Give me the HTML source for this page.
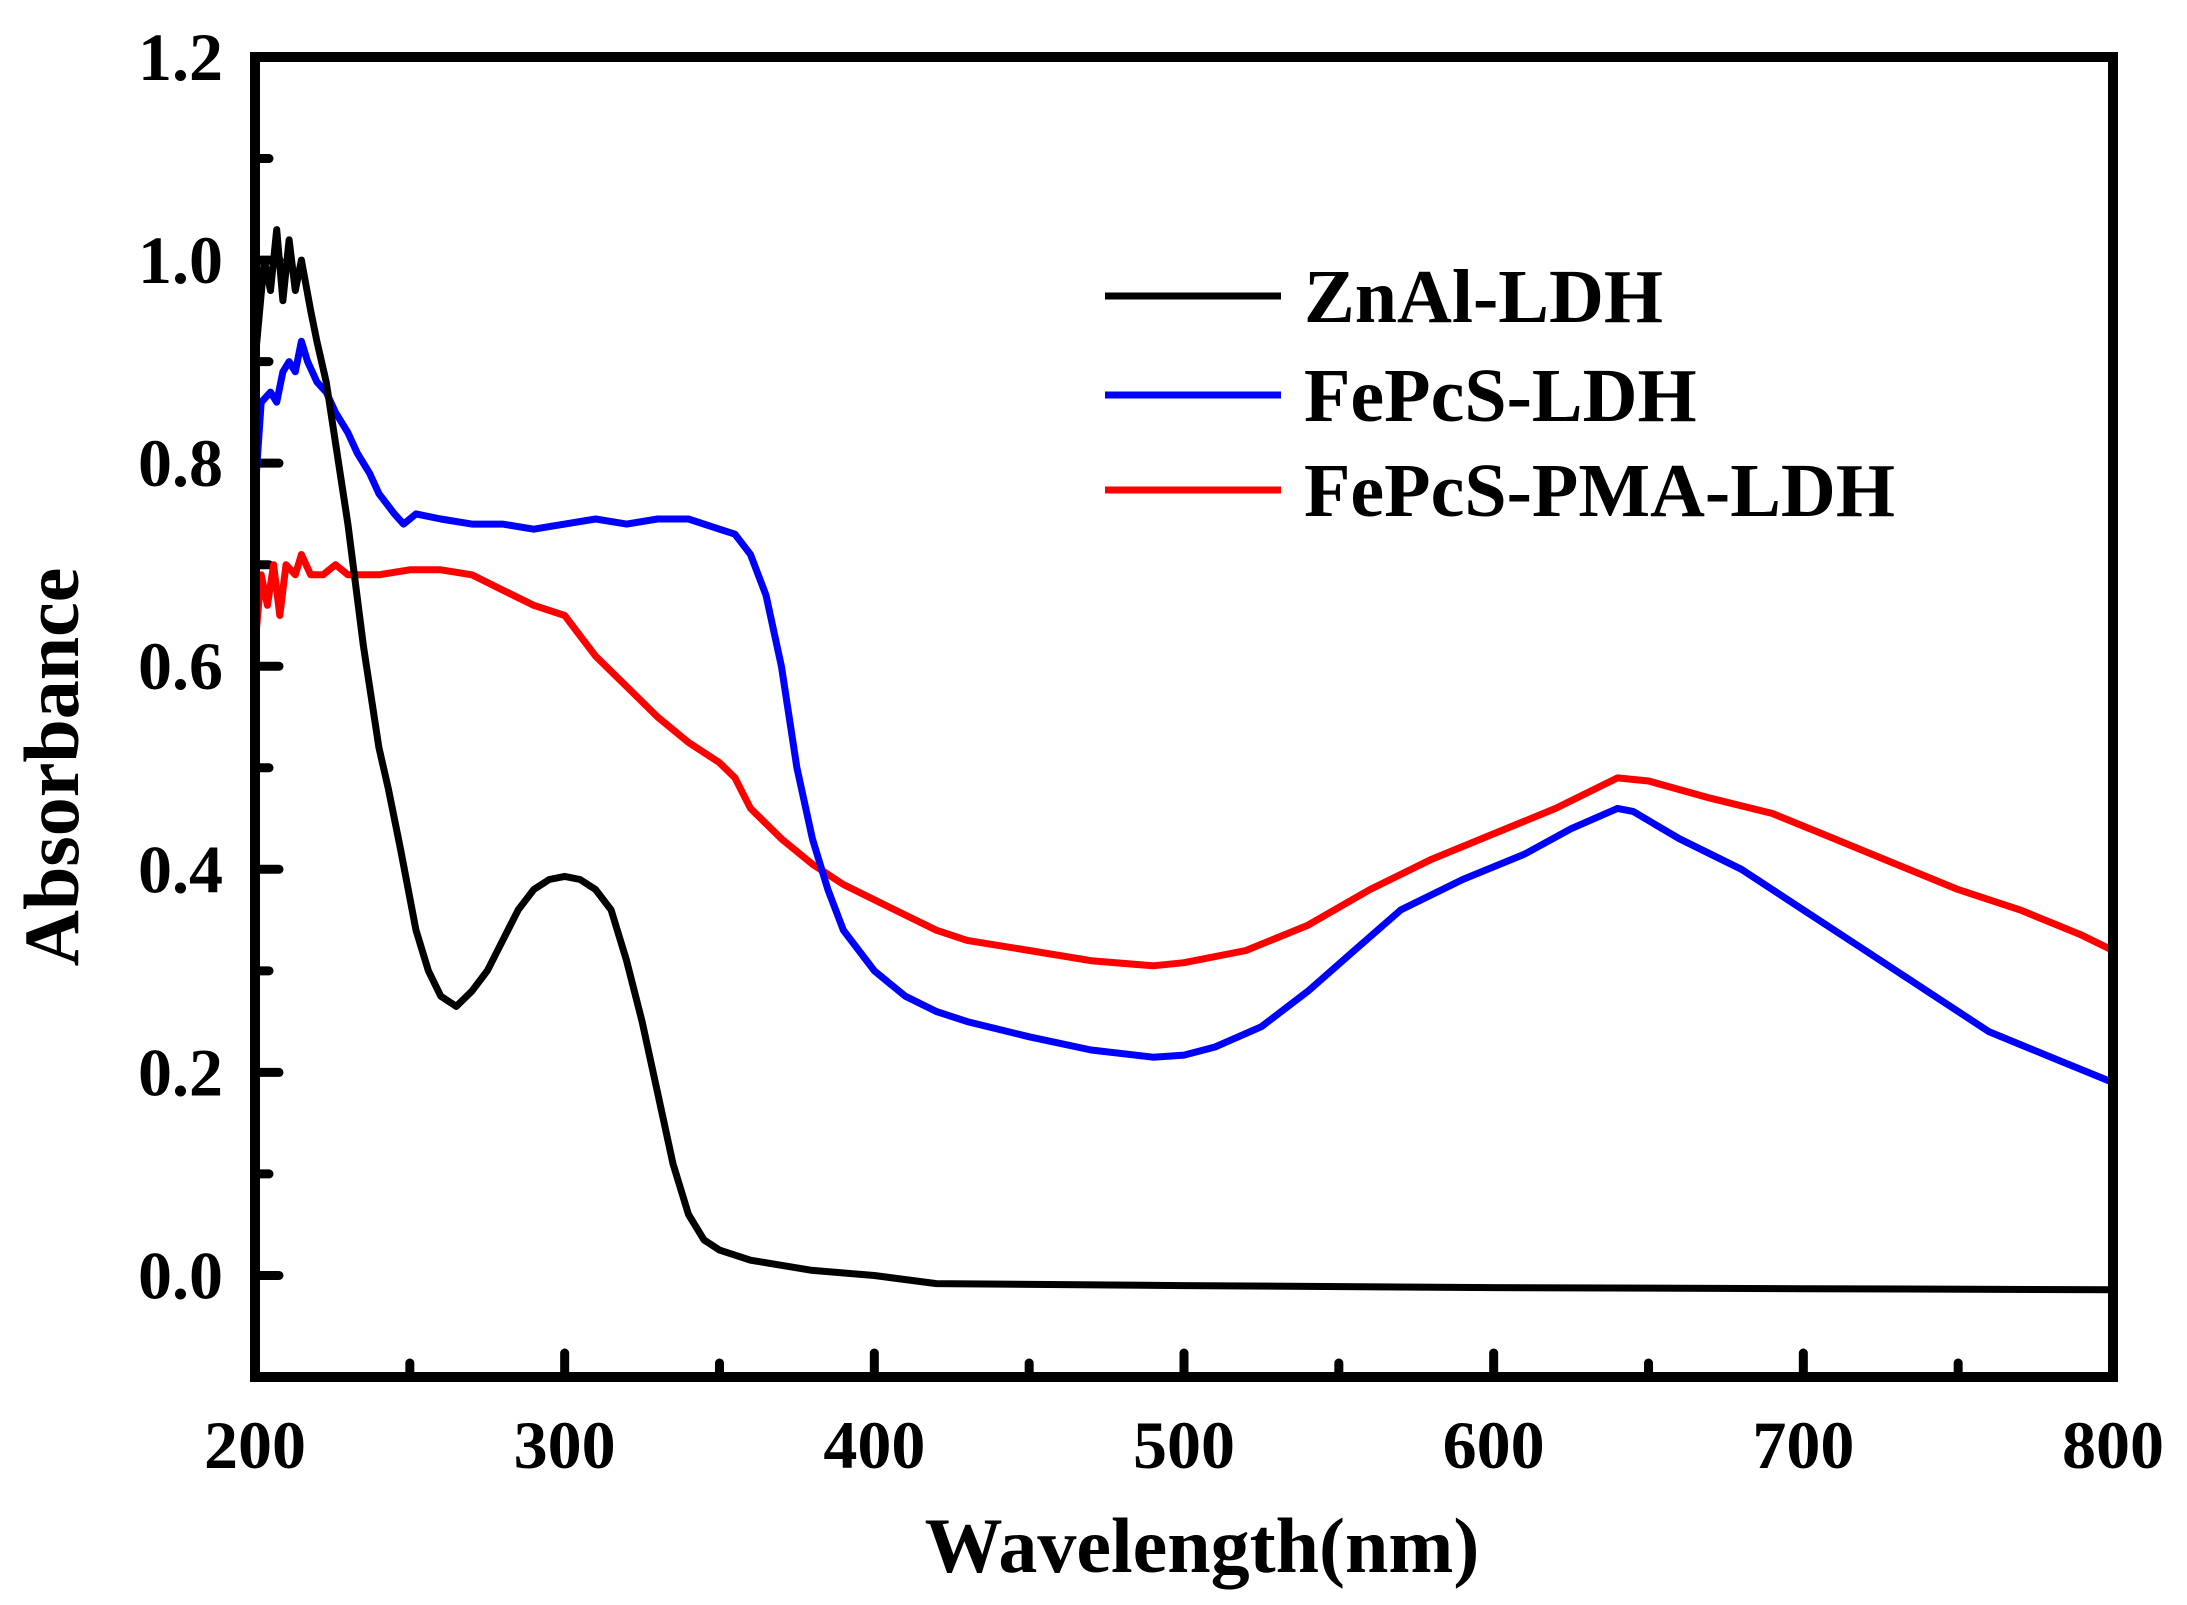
<!DOCTYPE html>
<html><head><meta charset="utf-8"><style>
html,body{margin:0;padding:0;background:#fff;}
svg{display:block;font-family:"Liberation Serif",serif;font-weight:bold;}
</style></head><body>
<svg id="chart" width="2187" height="1605" viewBox="0 0 2187 1605" xmlns="http://www.w3.org/2000/svg">
<g id="ticks"></g>
<g id="series"></g>
<rect x="255" y="57" width="1858" height="1320" fill="none" stroke="#000" stroke-width="10"/>
<text x="1202" y="1572" font-size="78" text-anchor="middle">Wavelength(nm)</text>
<text x="0" y="0" font-size="78" text-anchor="middle" transform="translate(78,767) rotate(-90)">Absorbance</text>
<g>
<line x1="1105" y1="296" x2="1281" y2="296" stroke="#000" stroke-width="7"/>
<text x="1304" y="322" font-size="76">ZnAl-LDH</text>
<line x1="1105" y1="395" x2="1281" y2="395" stroke="#0000ff" stroke-width="7"/>
<text x="1304" y="421" font-size="76">FePcS-LDH</text>
<line x1="1105" y1="490" x2="1281" y2="490" stroke="#ff0000" stroke-width="7"/>
<text x="1304" y="516" font-size="76">FePcS-PMA-LDH</text>
</g>
</svg>
<script>
const xTicks=[200,300,400,500,600,700,800];
const xMinor=[250,350,450,550,650,750];
const yTicks=[0.0,0.2,0.4,0.6,0.8,1.0,1.2];
const yMinor=[0.1,0.3,0.5,0.7,0.9,1.1];
const yTickLabels=["0.0","0.2","0.4","0.6","0.8","1.0","1.2"];
const znalX=[200,203,205,207,209,211,213,215,218,220,223,226,230,235,240,243,247,252,256,260,265,270,275,280,285,290,295,300,305,310,315,320,325,330,335,340,345,350,360,370,380,400,420,500,600,700,800];
const znalY=[0.9,1.0,0.97,1.03,0.96,1.02,0.97,1.0,0.95,0.92,0.88,0.82,0.74,0.62,0.52,0.48,0.42,0.34,0.30,0.275,0.265,0.28,0.30,0.33,0.36,0.38,0.39,0.393,0.39,0.38,0.36,0.31,0.25,0.18,0.11,0.06,0.035,0.025,0.015,0.01,0.005,0.0,-0.008,-0.01,-0.012,-0.013,-0.014];
const fepcsX=[200,202,205,207,209,211,213,215,217,220,223,226,230,233,237,240,245,248,252,260,270,280,290,300,310,320,330,340,350,355,360,365,370,375,380,385,390,400,410,420,430,450,470,490,500,510,525,540,555,570,590,610,625,640,645,660,680,700,720,740,760,780,800];
const fepcsY=[0.77,0.86,0.87,0.86,0.89,0.9,0.89,0.92,0.9,0.88,0.87,0.85,0.83,0.81,0.79,0.77,0.75,0.74,0.75,0.745,0.74,0.74,0.735,0.74,0.745,0.74,0.745,0.745,0.735,0.73,0.71,0.67,0.6,0.5,0.43,0.38,0.34,0.30,0.275,0.26,0.25,0.235,0.222,0.215,0.217,0.225,0.245,0.28,0.32,0.36,0.39,0.415,0.44,0.46,0.457,0.43,0.4,0.36,0.32,0.28,0.24,0.215,0.19];
const pmaX=[200,202,204,206,208,210,213,215,218,222,226,230,240,250,260,270,280,290,300,305,310,320,330,340,350,355,360,370,380,390,400,410,420,430,450,470,490,500,520,540,560,580,600,620,640,650,670,690,710,730,750,770,790,800];
const pmaY=[0.62,0.69,0.66,0.7,0.65,0.7,0.69,0.71,0.69,0.69,0.70,0.69,0.69,0.695,0.695,0.69,0.675,0.66,0.65,0.63,0.61,0.58,0.55,0.525,0.505,0.49,0.46,0.43,0.405,0.385,0.37,0.355,0.34,0.33,0.32,0.31,0.305,0.308,0.32,0.345,0.38,0.41,0.435,0.46,0.49,0.487,0.47,0.455,0.43,0.405,0.38,0.36,0.335,0.32];
const L=255,R=2113,T=57,B=1377,xmin=200,xmax=800,ymin=-0.1,ymax=1.2;
function sx(v){return L+(v-xmin)/(xmax-xmin)*(R-L);}
function sy(v){return B-(v-ymin)/(ymax-ymin)*(B-T);}
const NS="http://www.w3.org/2000/svg";
const tg=document.getElementById('ticks');
function ln(x1,y1,x2,y2,name){const e=document.createElementNS(NS,'line');
e.setAttribute('x1',x1);e.setAttribute('y1',y1);e.setAttribute('x2',x2);e.setAttribute('y2',y2);
e.setAttribute('stroke','#000');e.setAttribute('stroke-width','9');e.setAttribute('stroke-linecap','round');


tg.appendChild(e);}
function tx(x,y,s,anchor,name){const e=document.createElementNS(NS,'text');
e.setAttribute('x',x);e.setAttribute('y',y);e.setAttribute('font-size','68');e.setAttribute('text-anchor',anchor);e.textContent=s;


tg.appendChild(e);}
xTicks.forEach(v=>{if(v>xmin&&v<xmax)ln(sx(v),B,sx(v),B-24,'x-major-tick');tx(sx(v),1468,String(v),'middle','x-tick-label');});
xMinor.forEach(v=>ln(sx(v),B,sx(v),B-14,'x-minor-tick'));
yTicks.forEach((v,i)=>{if(v<ymax)ln(L,sy(v),L+24,sy(v),'y-major-tick');tx(223,sy(v)+23,yTickLabels[i],'end','y-tick-label');});
yMinor.forEach(v=>ln(L,sy(v),L+14,sy(v),'y-minor-tick'));
const sg=document.getElementById('series');
function series(xs,ys,color,name){const p=document.createElementNS(NS,'path');
let d=xs.map((x,i)=>(i?'L':'M')+sx(x).toFixed(1)+' '+sy(ys[i]).toFixed(1)).join(' ');
p.setAttribute('d',d);p.setAttribute('fill','none');p.setAttribute('stroke',color);p.setAttribute('stroke-width','7');p.setAttribute('stroke-linejoin','round');


sg.appendChild(p);}
series(pmaX,pmaY,'#ff0000','fepcs-pma-ldh-line');
series(fepcsX,fepcsY,'#0000ff','fepcs-ldh-line');
series(znalX,znalY,'#000000','znal-ldh-line');
</script>
</body></html>
